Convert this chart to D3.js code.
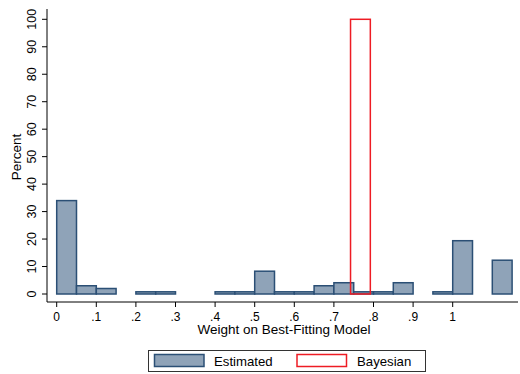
<!DOCTYPE html>
<html>
<head>
<meta charset="utf-8">
<script src="https://cdn.jsdelivr.net/npm/d3@7"></script>
<style>
  body { margin: 0; background: #fff; }
  svg { display: block; font-family: "Liberation Sans", Arial, Helvetica, sans-serif; }
</style>
</head>
<body>
<svg id="chart" width="520" height="374"></svg>
<script>
// histogram bins (left edges), width 0.05
let binStart = [0, .05, .1, .2, .25, .4, .45, .5, .55, .6, .65, .7, .75, .8, .85, .95, 1.0, 1.1];
let estimated = [34, 3, 2, 0.8, 0.8, 0.8, 0.8, 8.3, 0.8, 0.8, 3, 4.1, 0.8, 0.8, 4.1, 0.8, 19.4, 12.3];
let binWidth = 0.05;

let bayesStart = [0.742];
let bayesian = [100];

let xTicks = [0, .1, .2, .3, .4, .5, .6, .7, .8, .9, 1];
let xTickLabels = ["0", ".1", ".2", ".3", ".4", ".5", ".6", ".7", ".8", ".9", "1"];
let yTicks = [0, 10, 20, 30, 40, 50, 60, 70, 80, 90, 100];

let svg = d3.select("#chart");

let x = d3.scaleLinear().domain([0, 1]).range([56.7, 452.7]);
let y = d3.scaleLinear().domain([0, 100]).range([294, 19.3]);

let axisLeft = 47, axisBottom = 302;

// axes lines
svg.append("line")
    .attr("x1", axisLeft).attr("x2", axisLeft)
    .attr("y1", 9).attr("y2", axisBottom)
    .attr("stroke", "#000").attr("stroke-width", 1);
svg.append("line")
    .attr("x1", axisLeft).attr("x2", 518)
    .attr("y1", axisBottom).attr("y2", axisBottom)
    .attr("stroke", "#000").attr("stroke-width", 1);

// y ticks
let yg = svg.append("g");
yg.selectAll("line").data(yTicks).enter().append("line")
    .attr("x1", axisLeft - 5).attr("x2", axisLeft)
    .attr("y1", d => y(d)).attr("y2", d => y(d))
    .attr("stroke", "#000");
yg.selectAll("text").data(yTicks).enter().append("text")
    .attr("transform", d => "translate(35.5," + y(d) + ") rotate(-90)")
    .attr("text-anchor", "middle")
    .attr("font-size", 12.5)
    .text(d => d);

// x ticks
let xg = svg.append("g");
xg.selectAll("line").data(xTicks).enter().append("line")
    .attr("x1", d => x(d)).attr("x2", d => x(d))
    .attr("y1", axisBottom).attr("y2", axisBottom + 5)
    .attr("stroke", "#000");
xg.selectAll("text").data(xTicks).enter().append("text")
    .attr("x", d => x(d)).attr("y", 320.5)
    .attr("text-anchor", "middle")
    .attr("font-size", 12)
    .text((d, i) => xTickLabels[i]);

// titles
svg.append("text")
    .attr("x", 284).attr("y", 334)
    .attr("text-anchor", "middle").attr("font-size", 13.5)
    .text("Weight on Best-Fitting Model");
svg.append("text")
    .attr("transform", "translate(20.5,157) rotate(-90)")
    .attr("text-anchor", "middle").attr("font-size", 13.5)
    .text("Percent");

// estimated bars
svg.append("g").selectAll("rect").data(binStart).enter().append("rect")
    .attr("x", d => x(d))
    .attr("width", d => x(d + binWidth) - x(d))
    .attr("y", (d, i) => y(estimated[i]))
    .attr("height", (d, i) => y(0) - y(estimated[i]))
    .attr("fill", "#8fa3b8")
    .attr("stroke", "#2b4f75")
    .attr("stroke-width", 1.5);

// bayesian bar
svg.append("g").selectAll("rect").data(bayesStart).enter().append("rect")
    .attr("x", d => x(d))
    .attr("width", d => x(d + binWidth) - x(d))
    .attr("y", (d, i) => y(bayesian[i]))
    .attr("height", (d, i) => y(0) - y(bayesian[i]))
    .attr("fill", "none")
    .attr("stroke", "#ee1c24")
    .attr("stroke-width", 1.5);

// legend
let lg = svg.append("g");
lg.append("rect")
    .attr("x", 148.5).attr("y", 350.5).attr("width", 277).attr("height", 21)
    .attr("fill", "#fff").attr("stroke", "#333").attr("stroke-width", 1);
lg.append("rect")
    .attr("x", 154.5).attr("y", 354.5).attr("width", 49.5).attr("height", 12)
    .attr("fill", "#8fa3b8").attr("stroke", "#2b4f75").attr("stroke-width", 1.5);
lg.append("text")
    .attr("x", 214).attr("y", 365.5).attr("font-size", 13.2)
    .text("Estimated");
lg.append("rect")
    .attr("x", 297).attr("y", 354.5).attr("width", 49.5).attr("height", 12)
    .attr("fill", "none").attr("stroke", "#ee1c24").attr("stroke-width", 1.5);
lg.append("text")
    .attr("x", 357).attr("y", 365.5).attr("font-size", 13.2)
    .text("Bayesian");
</script>
</body>
</html>
